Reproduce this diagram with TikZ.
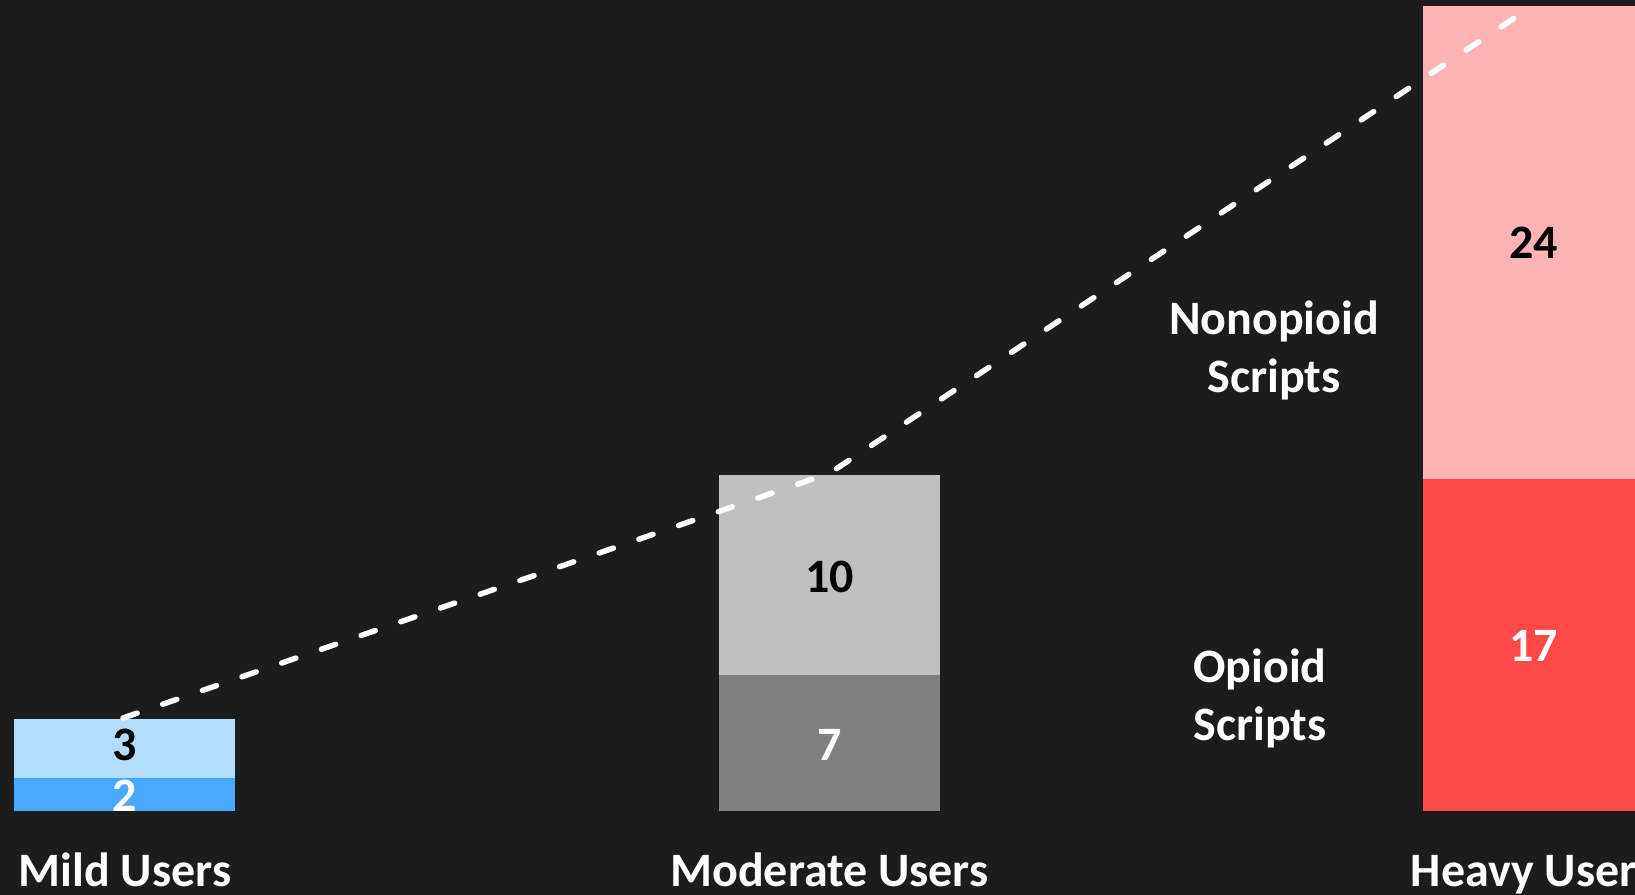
\documentclass[tikz,border=0pt]{standalone}
\usepackage{fontspec}
\setmainfont{Carlito}
\usetikzlibrary{positioning}
\definecolor{bg}{HTML}{1C1C1C}
\definecolor{mildlight}{HTML}{B3DEFF}
\definecolor{milddark}{HTML}{47AAFF}
\definecolor{modlight}{HTML}{C0C0C0}
\definecolor{moddark}{HTML}{808080}
\definecolor{heavylight}{HTML}{FFB3B3}
\definecolor{heavydark}{HTML}{FF4848}
\newcommand{\bigbold}{\bfseries\fontsize{24}{29}\selectfont}

\begin{document}
\begin{tikzpicture}[x=0.5pt,y=-0.5pt,
	num/.style={font=\bigbold, inner sep=0pt},
	lbl/.style={font=\bigbold, text=white, inner sep=0pt, align=center},
	trend/.style={white, line width=2.75pt, line cap=round, dash pattern=on 7.5pt off 13.5pt, rounded corners=4pt}]
	\pgfmathsetmacro{\W}{221} % bar width
	
	% Background
	\fill[bg] (0,0) rectangle (1635,895);
	\useasboundingbox (0,0) rectangle (1635,895);
	\clip (0,0) rectangle (1635,895);
	
	% Stacked bars
	\foreach \name/\x/\top/\mid/\light/\dark in {mild/14/719/778/mildlight/milddark,
		moderate/719/475/675/modlight/moddark,
		heavy/1423/6/479/heavylight/heavydark} {
		\fill[\light] (\x,\top) rectangle ({\x+\W},\mid);
		\fill[\dark] (\x,\mid) rectangle ({\x+\W},811);
	}
	
	% Values in the bars
	\node[num, text=black] (mildnon) at (124.5,745) {3};
	\node[num, text=white] (mildop) at (124.5,796) {2};
	\node[num, text=black] (modnon) at (829.5,577) {10};
	\node[num, text=white] (modop) at (829.5,745) {7};
	\node[num, text=black] (heavynon) at (1533.5,243) {24};
	\node[num, text=white] (heavyop) at (1533.5,646) {17};
	
	% Group names
	\node[lbl, anchor=base] (mild) at (125,886) {Mild Users};
	\node[lbl, anchor=base] (moderate) at (829.5,886) {Moderate Users};
	\node[lbl, anchor=base] (heavy) at (1533,886) {Heavy Users};
	
	% Legend (base is the last line)
	\node[lbl, anchor=base] (nonopioid) at (1274,392) {Nonopioid\\Scripts};
	\node[lbl, anchor=base] (opioid) at (1260,740) {Opioid\\Scripts};
	
	% Trend line
	\coordinate (mildtop) at (123,718);
	\coordinate (modtop) at (830,473);
	\coordinate (heavytop) at (1519,15);
	\draw[trend] (mildtop) -- (modtop) -- (heavytop);
	
\end{tikzpicture}
\end{document}
